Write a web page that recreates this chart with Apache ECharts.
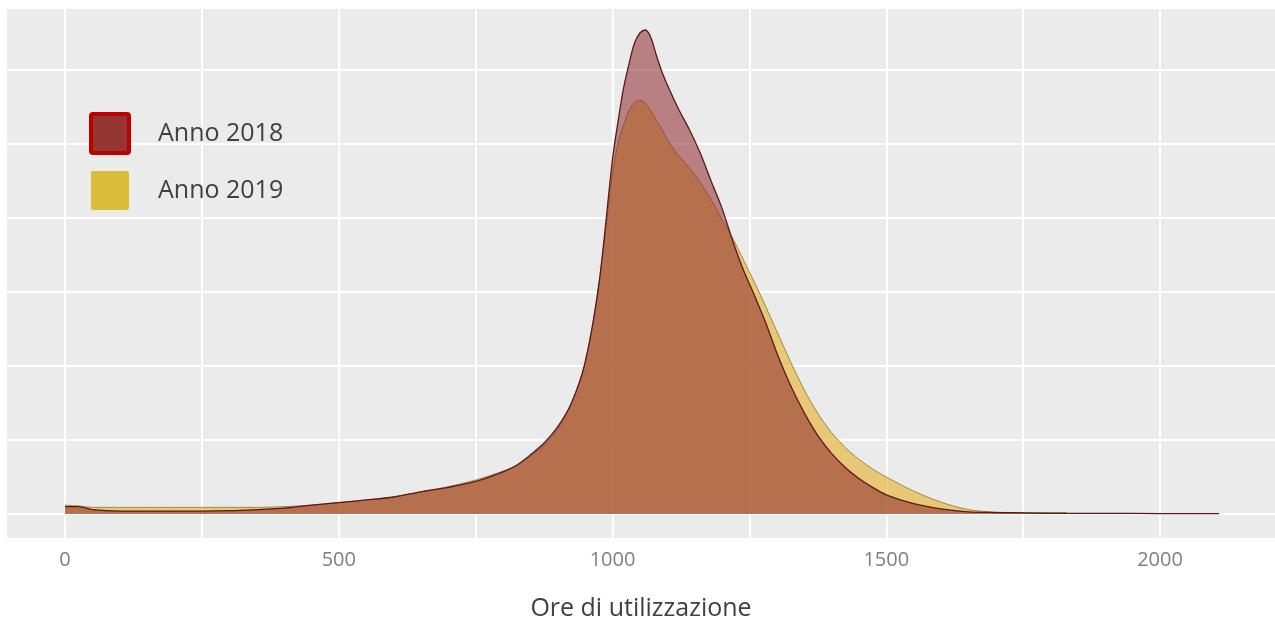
<!DOCTYPE html>
<html>
<head>
<meta charset="utf-8">
<script src="https://cdn.jsdelivr.net/npm/echarts@6/dist/echarts.min.js"></script>
<style>
  html, body { margin: 0; padding: 0; background: #fff; }
  #chart { width: 1275px; height: 628px; }
</style>
</head>
<body>
<div id="chart"></div>
<script>
// ore di utilizzazione (asse x)
const ore = [0, 25, 50, 100, 150, 200, 250, 300, 350, 400, 450, 500, 550, 600, 650, 700, 750,
  800, 825, 850, 875, 900, 925, 950, 975, 1000, 1010, 1020, 1030, 1040, 1050, 1060, 1070,
  1080, 1090, 1100, 1120, 1140, 1160, 1180, 1200, 1220, 1240, 1260, 1280, 1300, 1325, 1350,
  1375, 1400, 1425, 1450, 1475, 1500, 1550, 1600, 1650, 1700, 1750, 1800, 1830, 1900, 2000, 2108];

// densita' stimate dalla figura
const anno2018 = [0.10, 0.10, 0.06, 0.04, 0.04, 0.04, 0.04, 0.045, 0.06, 0.08, 0.12, 0.155, 0.19,
  0.23, 0.30, 0.36, 0.44, 0.57, 0.66, 0.80, 0.96, 1.18, 1.50, 2.05, 3.10, 4.80, 5.30, 5.75, 6.08,
  6.36, 6.50, 6.54, 6.44, 6.20, 5.98, 5.80, 5.48, 5.20, 4.88, 4.50, 4.13, 3.68, 3.28, 2.94, 2.58,
  2.18, 1.74, 1.37, 1.06, 0.82, 0.63, 0.48, 0.36, 0.26, 0.14, 0.07, 0.03, 0.02, 0.015, 0.01, 0.01,
  0.01, 0.005, 0.005];

const anno2019 = [0.12, 0.11, 0.09, 0.09, 0.09, 0.09, 0.09, 0.09, 0.09, 0.10, 0.12, 0.155, 0.19,
  0.23, 0.30, 0.37, 0.46, 0.58, 0.66, 0.78, 0.93, 1.15, 1.50, 2.05, 3.10, 4.60, 5.00, 5.25, 5.45,
  5.56, 5.59, 5.55, 5.45, 5.32, 5.20, 5.06, 4.85, 4.68, 4.48, 4.25, 3.98, 3.72, 3.42, 3.12, 2.80,
  2.47, 2.06, 1.68, 1.36, 1.10, 0.90, 0.74, 0.61, 0.50, 0.31, 0.16, 0.06, 0.025, 0.02, 0.02, 0.02,
  null, null, null];

const tickOre = [0, 500, 1000, 1500, 2000];
const gridOre = [0, 250, 500, 750, 1000, 1250, 1500, 1750, 2000];
const gridY = [0, 1, 2, 3, 4, 5, 6];

const chart = echarts.init(document.getElementById("chart"));

const boxIcon = "path://M2,0 H36 Q38,0 38,2 V37 Q38,39 36,39 H2 Q0,39 0,37 V2 Q0,0 2,0 Z";

const option = {
  backgroundColor: "#ffffff",
  animation: false,
  textStyle: { fontFamily: "Open Sans" },
  grid: {
    left: 7,
    right: 0,
    top: 9,
    bottom: 90,
    show: true,
    backgroundColor: "#EBEBEB",
    borderWidth: 0
  },
  legend: {
    orient: "vertical",
    left: 84,
    top: 107,
    itemWidth: 38,
    itemHeight: 39,
    itemGap: 16,
    selectedMode: false,
    textStyle: { fontSize: 25, color: "#404040", padding: [0, 0, 0, 24] },
    data: [
      { name: "Anno 2018", icon: boxIcon, itemStyle: { color: "#943634", borderColor: "#C00000", borderWidth: 4 } },
      { name: "Anno 2019", icon: boxIcon, itemStyle: { color: "#DBBD3A", borderWidth: 0 } }
    ]
  },
  xAxis: {
    type: "value",
    min: -106,
    max: 2210,
    axisLine: { show: false },
    axisTick: { show: true, length: 5, customValues: tickOre, lineStyle: { color: "#333333", width: 1.5 } },
    axisLabel: {
      customValues: tickOre,
      color: "#7F7F7F",
      fontSize: 20,
      margin: 12,
      formatter: v => String(v)
    },
    splitLine: { show: false },
    name: "Ore di utilizzazione",
    nameLocation: "middle",
    nameGap: 58,
    nameTextStyle: { fontSize: 25, color: "#404040" }
  },
  yAxis: {
    type: "value",
    min: -0.324,
    max: 6.824,
    show: false,
    splitLine: { show: false }
  },
  series: [
    {
      name: "griglia",
      type: "line",
      data: [],
      silent: true,
      z: 1,
      markLine: {
        z: 1,
        silent: true,
        symbol: "none",
        label: { show: false },
        lineStyle: { color: "#ffffff", width: 2, type: "solid" },
        data: gridOre.map(v => ({ xAxis: v })).concat(gridY.map(v => ({ yAxis: v })))
      }
    },
    {
      name: "Anno 2019",
      type: "line",
      z: 10,
      smooth: 0.3,
      symbol: "none",
      data: ore.map((x, i) => [x, anno2019[i]]),
      lineStyle: { color: "#9C8A45", width: 1 },
      areaStyle: { color: "rgba(230,186,72,0.72)", opacity: 1 }
    },
    {
      name: "Anno 2018",
      type: "line",
      z: 11,
      smooth: 0.3,
      symbol: "none",
      data: ore.map((x, i) => [x, anno2018[i]]),
      lineStyle: { color: "#5A1A1A", width: 1.3 },
      areaStyle: { color: "rgba(140,37,42,0.54)", opacity: 1 }
    }
  ]
};

chart.setOption(option);
</script>
</body>
</html>
